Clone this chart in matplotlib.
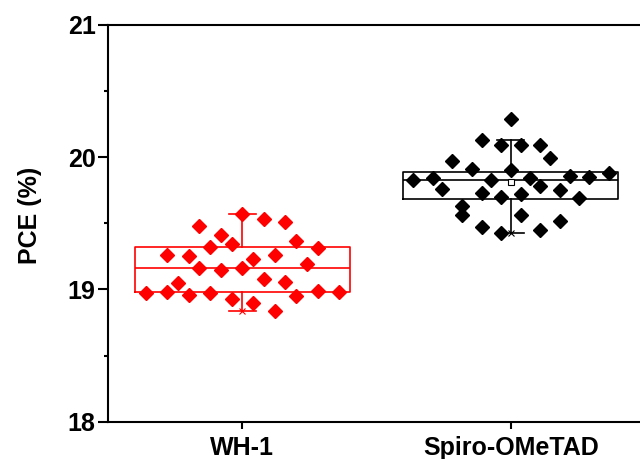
import matplotlib.pyplot as plt

plt.rcParams['font.family'] = ['Liberation Sans', 'DejaVu Sans']
plt.rcParams['font.weight'] = 'bold'

groups = ["WH-1", "Spiro-OMeTAD"]
colors = ["#ff0000", "#000000"]

# PCE values (%)
wh1_pce = [19.57, 19.53, 19.51, 19.48, 19.41, 19.34, 19.32, 19.37, 19.31, 19.26,
           19.25, 19.26, 19.23, 19.19, 19.16, 19.15, 19.16, 19.05, 19.08, 19.06,
           18.97, 18.98, 18.96, 18.97, 18.99, 18.98, 18.93, 18.90, 18.95, 18.84]
wh1_jitter = [0, 2, 4, -4, -2, -1, -3, 5, 7, -7,
              -5, 3, 1, 6, -4, -2, 0, -6, 2, 4,
              -9, -7, -5, -3, 7, 9, -1, 1, 5, 3]

spiro_pce = [20.29, 20.13, 20.09, 20.09, 20.09, 19.99, 19.97, 19.91, 19.90, 19.83,
             19.84, 19.83, 19.84, 19.86, 19.85, 19.88, 19.76, 19.78, 19.75, 19.73,
             19.70, 19.72, 19.69, 19.63, 19.56, 19.56, 19.52, 19.47, 19.43, 19.45]
spiro_jitter = [0, -3, -1, 1, 3, 4, -6, -4, 0, -10,
                -8, -2, 2, 6, 8, 10, -7, 3, 5, -3,
                -1, 1, 7, -5, -5, 1, 5, -3, -1, 3]

# box statistics (Origin style)
q1 = [18.98, 19.68]
median = [19.16, 19.83]
q3 = [19.32, 19.89]
whis_lo = [18.84, 19.43]
whis_hi = [19.57, 20.13]
means = [19.16, 19.81]

fig = plt.figure(figsize=(6.4, 4.59), dpi=100)
ax = fig.add_axes([0.169, 0.081, 0.839, 0.865])

positions = [1, 2]
stats = []
for i in range(2):
    stats.append(dict(q1=q1[i], med=median[i], q3=q3[i], whislo=whis_lo[i],
                      whishi=whis_hi[i], mean=means[i], fliers=[]))

for i, st in enumerate(stats):
    c = colors[i]
    ax.bxp([st], positions=[positions[i]], widths=0.8, capwidths=0.1,
           showmeans=True, meanline=False, manage_ticks=False,
           boxprops=dict(color=c, linewidth=1.2),
           medianprops=dict(color=c, linewidth=1.2),
           whiskerprops=dict(color=c, linewidth=1.2),
           capprops=dict(color=c, linewidth=1.2),
           meanprops=dict(marker='s', markerfacecolor='white', markeredgecolor=c,
                          markersize=4, markeredgewidth=0.8),
           zorder=2)

steps = [0.04, 0.0364]
all_pce = [wh1_pce, spiro_pce]
all_jit = [wh1_jitter, spiro_jitter]
for i in range(2):
    xs = [positions[i] + j * steps[i] for j in all_jit[i]]
    ax.plot(xs, all_pce[i], linestyle='none', marker='D', markersize=7.5,
            color=colors[i], zorder=3)
    # min / max markers
    ax.plot([positions[i], positions[i]], [min(all_pce[i]), max(all_pce[i])],
            linestyle='none', marker='x', markersize=5, color=colors[i],
            markeredgewidth=0.8, zorder=2.5)

ax.set_xlim(0.5, 2.5)
ax.set_ylim(18, 21)
ax.set_yticks([18, 19, 20, 21])
ax.set_yticks([18.5, 19.5, 20.5], minor=True)
ax.set_xticks(positions)
ax.set_xticklabels(groups)
ax.set_ylabel("PCE (%)", fontsize=18, fontweight='bold')
ax.yaxis.set_label_coords(-0.123, 0.52)

ax.spines['right'].set_visible(False)
for sp in ax.spines.values():
    sp.set_linewidth(1.5)
ax.tick_params(axis='both', which='major', labelsize=18, width=1.5, direction='out')
ax.tick_params(axis='y', which='major', length=7, pad=2)
ax.tick_params(axis='y', which='minor', length=3, width=1.5)
ax.tick_params(axis='x', which='major', length=5, pad=5)

fig.savefig("out.png", dpi=100)
